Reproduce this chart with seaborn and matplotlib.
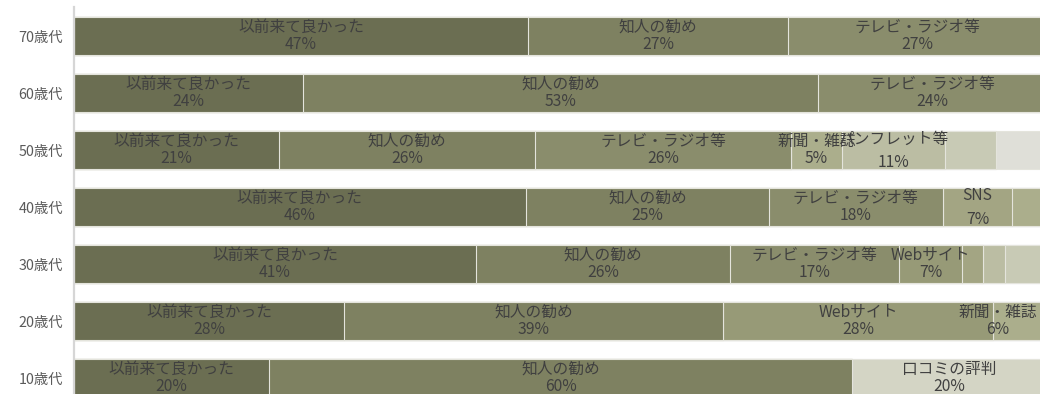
import numpy as np
import pandas as pd
import matplotlib
matplotlib.use("Agg")
import matplotlib.pyplot as plt
import seaborn as sns

# Age groups, top to bottom
ages = ["70歳代", "60歳代", "50歳代", "40歳代", "30歳代", "20歳代", "10歳代"]

# Reasons for visiting, in stacking order
sources = ["以前来て良かった", "知人の勧め", "テレビ・ラジオ等", "Webサイト", "SNS",
           "新聞・雑誌", "パンフレット等", "その他", "口コミの評判", "無回答"]

# Share of answers (%) per age group, one value per entry of `sources`
share_70 = [46.67, 26.67, 26.67, 0, 0, 0, 0, 0, 0, 0]
share_60 = [23.53, 52.94, 23.53, 0, 0, 0, 0, 0, 0, 0]
share_50 = [21.05, 26.32, 26.32, 0, 0, 5.26, 10.53, 5.26, 0, 5.26]
share_40 = [46.43, 25.00, 17.86, 0, 7.14, 3.57, 0, 0, 0, 0]
share_30 = [41.30, 26.09, 17.39, 6.52, 2.17, 0, 2.17, 4.35, 0, 0]
share_20 = [27.78, 38.89, 0, 27.78, 0, 5.56, 0, 0, 0, 0]
share_10 = [20.00, 60.00, 0, 0, 0, 0, 0, 0, 20.00, 0]

shares = np.array([share_70, share_60, share_50, share_40,
                   share_30, share_20, share_10], dtype=float)

palette = {
    "以前来て良かった": "#6b6e52",
    "知人の勧め": "#7e8161",
    "テレビ・ラジオ等": "#8a8d6c",
    "Webサイト": "#979a77",
    "SNS": "#a3a583",
    "新聞・雑誌": "#abae8c",
    "パンフレット等": "#bbbda3",
    "その他": "#c8cab5",
    "口コミの評判": "#d4d5c5",
    "無回答": "#dfdfd8",
}
unlabeled = {"その他", "無回答"}
min_label = 5.0

# Long-form table with cumulative ends of each stacked segment
cum = shares.cumsum(axis=1)
rows = []
for r, age in enumerate(ages):
    for i, src in enumerate(sources):
        rows.append({"age": age, "source": src, "value": shares[r, i],
                     "end": cum[r, i], "start": cum[r, i] - shares[r, i]})
df = pd.DataFrame(rows)

sns.set_theme(style="white")
plt.rcParams["font.family"] = ["Noto Sans CJK JP", "DejaVu Sans"]

W, H, DPI = 1040, 394, 100
fig = plt.figure(figsize=(W / DPI, H / DPI), dpi=DPI)
ax = fig.add_axes([74 / W, (H - 406.5) / H, 973 / W, 399 / H])

# Stacked bars: widest cumulative drawn first, each later one on top
sns.barplot(data=df, x="end", y="age", hue="source",
            order=ages, hue_order=sources[::-1], palette=palette,
            dodge=False, width=0.667, saturation=1, errorbar=None,
            edgecolor="#e4e4dc", linewidth=0.8, legend=False, ax=ax)

ax.set_xlim(0, 100)
ax.set_ylim(len(ages) - 0.5, -0.5)
ax.set_xlabel("")
ax.set_ylabel("")
ax.set_xticks([])
ax.tick_params(axis="y", length=0, pad=8, labelsize=10.3, labelcolor="#5a5a5a")
for side in ("top", "right", "bottom"):
    ax.spines[side].set_visible(False)
ax.spines["left"].set_color("#d6d6d6")
ax.spines["left"].set_linewidth(1.6)

px = 1.0 / 57.0  # one pixel in category units
txt_kw = dict(ha="center", va="center", fontsize=11.3, color="#404040")
wide_gap = {("50歳代", "パンフレット等"), ("40歳代", "SNS")}

labels = []
for _, row in df.iterrows():
    if row["value"] < min_label or row["source"] in unlabeled:
        continue
    r = ages.index(row["age"])
    xc = (row["start"] + row["end"]) / 2
    extra = 4 if (row["age"], row["source"]) in wide_gap else 0
    t1 = ax.text(xc, r - (9 + extra * 0.5) * px, row["source"], **txt_kw)
    t2 = ax.text(xc, r + (8.5 + extra) * px, f"{row['value']:.0f}%", **txt_kw)
    labels.append((t1, t2))

# keep label pairs inside the figure's right edge
fig.canvas.draw()
renderer = fig.canvas.get_renderer()
limit = W - 3
for pair in labels:
    right = max(t.get_window_extent(renderer).x1 for t in pair)
    if right > limit:
        shift = right - limit
        x0 = ax.transData.inverted().transform((0, 0))[0]
        x1 = ax.transData.inverted().transform((shift, 0))[0]
        for t in pair:
            t.set_x(t.get_position()[0] - (x1 - x0))

fig.savefig("out.png", dpi=DPI)
